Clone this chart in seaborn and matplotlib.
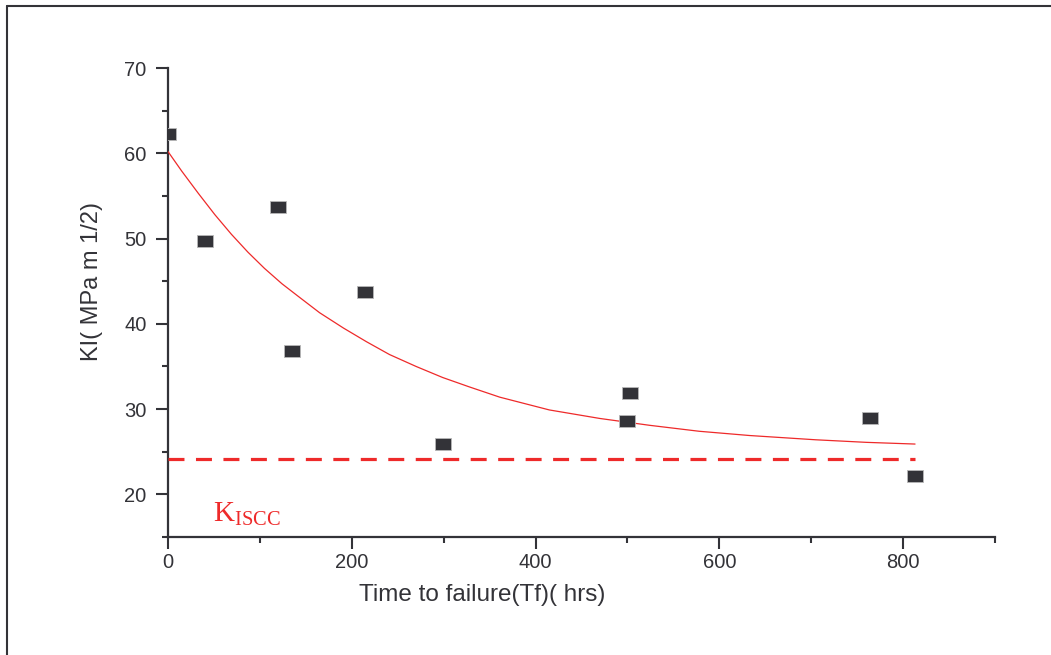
import matplotlib
matplotlib.use("Agg")
import matplotlib.pyplot as plt
import numpy as np
import pandas as pd
import seaborn as sns
from matplotlib.lines import Line2D
from matplotlib.ticker import AutoMinorLocator, MultipleLocator

# --- data ---
tf_hrs = [0, 40, 120, 135, 214, 299, 500, 503, 764, 813]
ki_vals = [62.3, 49.7, 53.7, 36.8, 43.7, 25.9, 28.6, 31.9, 28.9, 22.2]

# exponential decay fit curve (traced points)
fit_x = [0, 15, 33, 51, 69, 87, 105, 124, 142, 165, 191, 216, 241, 270, 299,
         328, 361, 415, 470, 524, 578, 633, 705, 760, 813]
fit_y = [60.2, 57.9, 55.3, 52.8, 50.5, 48.4, 46.5, 44.7, 43.2, 41.3, 39.5, 37.9, 36.4, 35.0, 33.7,
         32.6, 31.4, 29.9, 28.9, 28.1, 27.4, 26.9, 26.4, 26.1, 25.9]

# threshold K_ISCC
kiscc_x = [0, 813]
kiscc_level = 24.1

pts = pd.DataFrame({"Tf": tf_hrs, "KI": ki_vals})
fit = pd.DataFrame({"Tf": fit_x, "KI": fit_y})
thr = pd.DataFrame({"Tf": kiscc_x, "KI": [kiscc_level] * len(kiscc_x)})

sns.set_style("ticks")
plt.rcParams["font.family"] = ["Liberation Sans", "DejaVu Sans"]

dark = "#333338"
red = "#ee2a2a"

fig = plt.figure(figsize=(10.51, 6.55), dpi=100)
ax = fig.add_axes([168 / 1051, 1 - 537 / 655, (995 - 168) / 1051, (537 - 68) / 655])

# fitted curve
sns.lineplot(data=fit, x="Tf", y="KI", ax=ax, color=red, lw=0.9,
             sort=False, estimator=None, zorder=3)
# K_ISCC dashed line
sns.lineplot(data=thr, x="Tf", y="KI", ax=ax, color=red, lw=2.3,
             dashes=False, estimator=None, zorder=3)
ax.lines[-1].set_dashes([5.0, 3.6])

# data points (slightly wide squares)
box = [(-1.3, -1), (1.3, -1), (1.3, 1), (-1.3, 1), (-1.3, -1)]
sns.scatterplot(data=pts, x="Tf", y="KI", ax=ax, marker=box, s=135,
                color=dark, edgecolor="#b8b8b8", linewidth=0.6, zorder=4)

ax.set_xlim(0, 900)
ax.set_ylim(15, 70)
ax.xaxis.set_major_locator(MultipleLocator(200))
ax.xaxis.set_minor_locator(AutoMinorLocator(2))
ax.yaxis.set_major_locator(MultipleLocator(10))
ax.yaxis.set_minor_locator(AutoMinorLocator(2))

for side in ["top", "right"]:
    ax.spines[side].set_visible(False)
for side in ["left", "bottom"]:
    ax.spines[side].set_color(dark)
    ax.spines[side].set_linewidth(1.6)

ax.tick_params(axis="both", which="major", direction="out", length=8.5, width=1.5,
               color=dark, labelcolor=dark, labelsize=14.5)
ax.tick_params(axis="both", which="minor", direction="out", length=4.5, width=1.5, color=dark)
ax.tick_params(axis="y", which="major", pad=7)
ax.tick_params(axis="x", which="major", pad=3)

ax.set_xlabel("Time to failure(Tf)( hrs)", fontsize=17.5, color=dark)
ax.set_ylabel("KI( MPa m 1/2)", fontsize=17, color=dark)
ax.xaxis.set_label_coords(0.38, -0.1)
ax.yaxis.set_label_coords(-0.079, 0.544)

ax.text(48.6, 16.8, r"$\mathregular{K_{ISCC}}$", color=red, fontsize=21,
        family="Liberation Serif", ha="left", va="baseline")

# figure frame (left and top edges visible)
fx, fy = 6.5 / 1051, 1 - 5.5 / 655
fig.add_artist(Line2D([fx, fx], [0, fy], transform=fig.transFigure, color=dark, lw=1.5))
fig.add_artist(Line2D([fx, 1], [fy, fy], transform=fig.transFigure, color=dark, lw=1.5))

fig.savefig("out.png", dpi=100)
